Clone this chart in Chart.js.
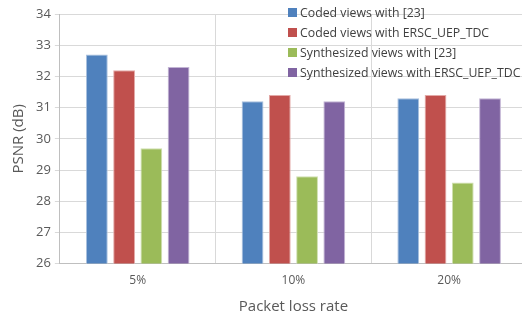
<!DOCTYPE html>
<html>
<head>
<meta charset="utf-8">
<script src="https://cdn.jsdelivr.net/npm/chart.js@4"></script>
<style>
  html, body { margin: 0; padding: 0; background: #fff; overflow: hidden; }
  #wrap { width: 527px; height: 320px; }
</style>
</head>
<body>
<div id="wrap"><canvas id="PsnrChart" width="527" height="320"></canvas></div>
<script>
var categories = ['5%', '10%', '20%'];
var codedRef = [32.7, 31.2, 31.3];
var codedOurs = [32.2, 31.4, 31.4];
var synthRef = [29.7, 28.8, 28.6];
var synthOurs = [32.3, 31.2, 31.3];
var seriesNames = ['Coded views with [23]', 'Coded views with ERSC_UEP_TDC',
  'Synthesized views with [23]', 'Synthesized views with ERSC_UEP_TDC'];
var yTicks = [26, 27, 28, 29, 30, 31, 32, 33, 34];

var fontFam = "'Open Sans', 'Liberation Sans', sans-serif";

function series(i, values, fill, edge) {
  return {
    label: seriesNames[i],
    data: values,
    backgroundColor: fill,
    borderColor: edge,
    borderWidth: 1,
    barPercentage: 0.8,
    categoryPercentage: 0.7
  };
}

// legend drawn on top of the plot, no box behind it
var overLegend = {
  id: 'overLegend',
  afterDraw: function(chart) {
    var c = chart.ctx;
    c.save();
    c.font = '12.3px ' + fontFam;
    c.textBaseline = 'middle';
    chart.data.datasets.forEach(function(ds, i) {
      var y = 12 + i * 20;
      c.fillStyle = ds.backgroundColor;
      c.fillRect(288, y - 4, 9, 9);
      c.fillStyle = '#404040';
      c.fillText(ds.label, 300, y + 1);
    });
    c.restore();
  }
};

var ctx = document.getElementById('PsnrChart');
var PsnrChart = new Chart(ctx, {
  type: 'bar',
  data: {
    labels: categories,
    datasets: [
      series(0, codedRef, '#4f81bd', '#a9c0de'),
      series(1, codedOurs, '#c0504d', '#e3a9a7'),
      series(2, synthRef, '#9bbb59', '#cfe0b0'),
      series(3, synthOurs, '#8064a2', '#c2b4d4')
    ]
  },
  options: {
    responsive: false,
    animation: false,
    layout: { padding: { top: 14, left: 6, right: 0, bottom: 2 } },
    plugins: {
      legend: { display: false },
      tooltip: { enabled: false }
    },
    scales: {
      x: {
        grid: { color: '#d9d9d9', lineWidth: 1, offset: true, drawTicks: false },
        border: { color: '#bfbfbf' },
        ticks: { color: '#595959', font: { size: 12, family: fontFam }, padding: 10 },
        title: { display: true, text: 'Packet loss rate', color: '#595959',
          font: { size: 15, family: fontFam }, padding: { top: 0, bottom: 2 } }
      },
      y: {
        min: 26,
        max: 34,
        afterBuildTicks: function(axis) {
          axis.ticks = yTicks.map(function(v) { return { value: v }; });
        },
        grid: { color: '#d9d9d9', lineWidth: 1, drawTicks: true, tickLength: 5 },
        border: { color: '#bfbfbf' },
        ticks: { color: '#595959', font: { size: 13, family: fontFam }, padding: 4 },
        title: { display: true, text: 'PSNR (dB)', color: '#595959',
          font: { size: 15, family: fontFam }, padding: { bottom: 4 } }
      }
    }
  },
  plugins: [overLegend]
});
</script>
</body>
</html>
